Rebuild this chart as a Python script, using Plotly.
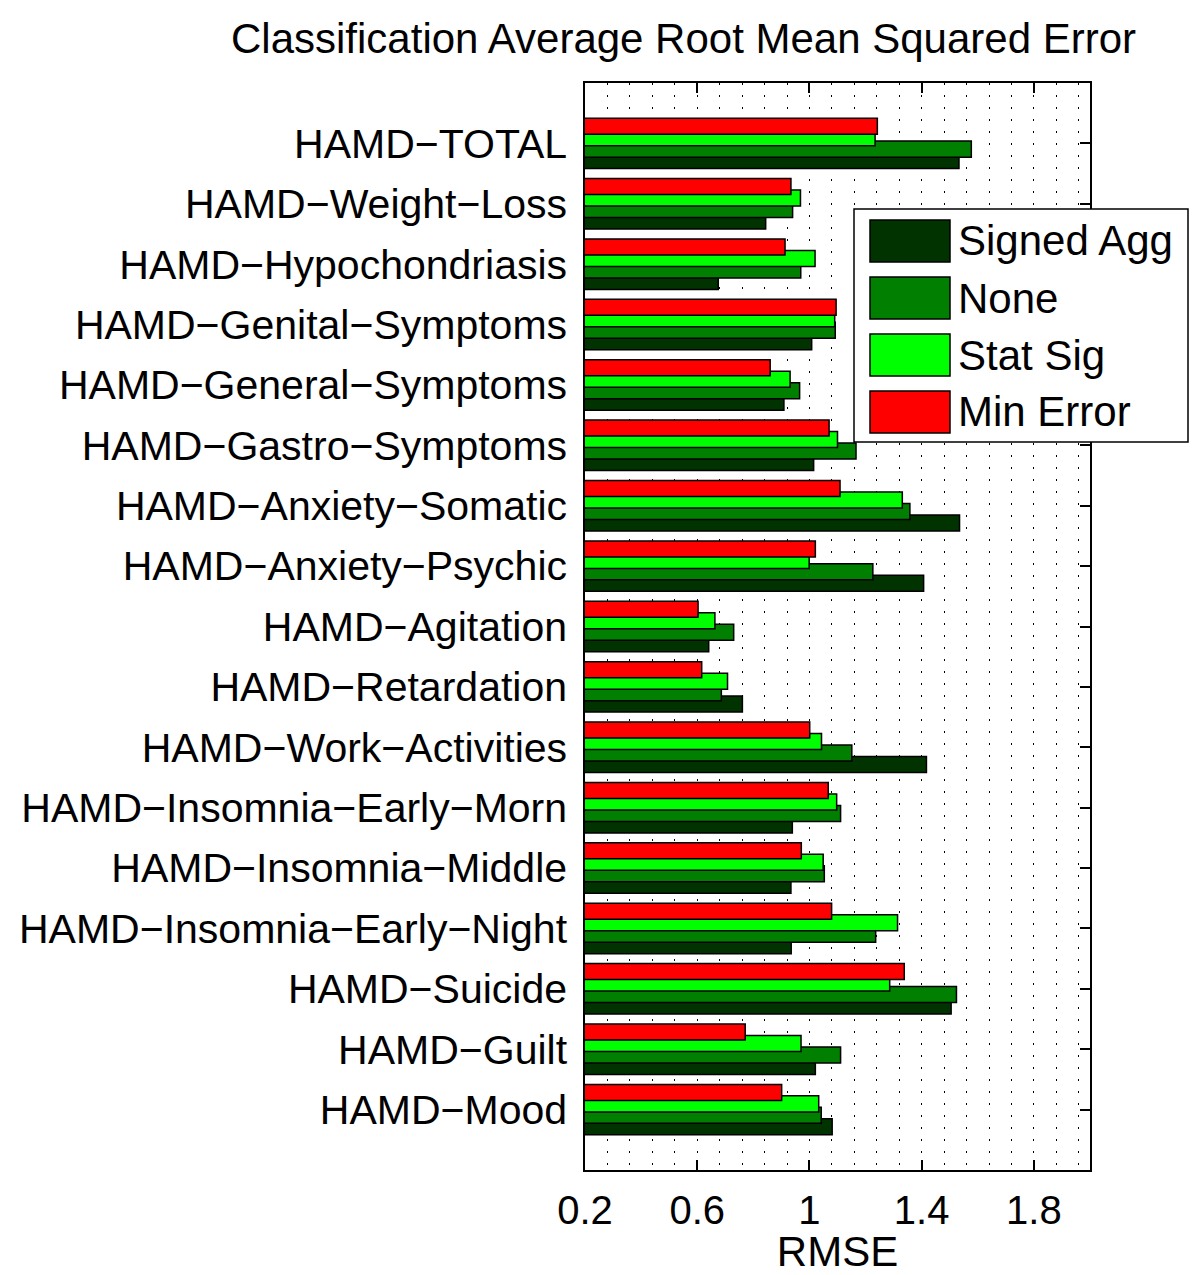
import plotly.graph_objects as go

# ---------------- data ----------------
categories = [
    "HAMD−Mood", "HAMD−Guilt", "HAMD−Suicide", "HAMD−Insomnia−Early−Night",
    "HAMD−Insomnia−Middle", "HAMD−Insomnia−Early−Morn", "HAMD−Work−Activities",
    "HAMD−Retardation", "HAMD−Agitation", "HAMD−Anxiety−Psychic",
    "HAMD−Anxiety−Somatic", "HAMD−Gastro−Symptoms", "HAMD−General−Symptoms",
    "HAMD−Genital−Symptoms", "HAMD−Hypochondriasis", "HAMD−Weight−Loss", "HAMD−TOTAL",
]
signed_agg = [1.081, 1.021, 1.505, 0.935, 0.934, 0.939, 1.417, 0.761, 0.641, 1.407,
              1.535, 1.015, 0.909, 1.008, 0.675, 0.844, 1.533]
none_vals = [1.042, 1.111, 1.524, 1.236, 1.053, 1.111, 1.151, 0.686, 0.730, 1.226,
             1.358, 1.166, 0.965, 1.092, 0.969, 0.940, 1.577]
stat_sig = [1.033, 0.970, 1.286, 1.314, 1.049, 1.097, 1.043, 0.708, 0.663, 0.999,
            1.331, 1.100, 0.931, 1.090, 1.020, 0.968, 1.234]
min_error = [0.901, 0.771, 1.338, 1.079, 0.971, 1.067, 1.001, 0.616, 0.603, 1.021,
             1.109, 1.070, 0.860, 1.095, 0.913, 0.934, 1.242]

series_names = ["Signed Agg", "None", "Stat Sig", "Min Error"]
series_values = [signed_agg, none_vals, stat_sig, min_error]
colors = ["#003300", "#007f00", "#00ff00", "#ff0000"]

x_tick_vals = [0.2, 0.6, 1.0, 1.4, 1.8]
x_tick_text = ["0.2", "0.6", "1", "1.4", "1.8"]

title_text = "Classification Average Root Mean Squared Error"
x_title = "RMSE"

# ---------------- layout geometry (page pixels; page has 8px body margin) ----------------
OFF = 8
W, H = 1200 - OFF, 1275 - OFF
L, R, T, B = 585, 1090, 83, 1170          # plot area in page pixels
FONT = "Liberation Sans, Arial, Helvetica, sans-serif"

def px2x(px):
    return (px - L) / (R - L)

def py2y(py):
    return (B - py) / (B - T)

bar_w = 0.265
step = 0.19

fig = go.Figure()
for i, (name, vals, col) in enumerate(zip(series_names, series_values, colors)):
    fig.add_trace(go.Bar(
        y=categories, x=vals, name=name, orientation="h",
        marker=dict(color=col, line=dict(color="black", width=1.5)),
        width=bar_w, offset=(i - 1.5) * step - bar_w / 2,
        showlegend=False,
    ))

# custom legend (MATLAB-style big swatches)
shapes = [dict(type="rect", xref="paper", yref="paper",
               x0=px2x(854), x1=px2x(1188), y0=py2y(442), y1=py2y(209),
               fillcolor="white", line=dict(color="black", width=1.5), layer="above")]
annotations = []
for k, (name, col) in enumerate(zip(series_names, colors)):
    cy = 241 + 57 * k
    shapes.append(dict(type="rect", xref="paper", yref="paper",
                       x0=px2x(870), x1=px2x(950), y0=py2y(cy + 21), y1=py2y(cy - 21),
                       fillcolor=col, line=dict(color="black", width=1.5), layer="above"))
    annotations.append(dict(xref="paper", yref="paper", x=px2x(956), y=py2y(cy),
                            xanchor="left", yanchor="middle", text=name, showarrow=False,
                            font=dict(family=FONT, size=42, color="black")))

annotations.append(dict(xref="paper", yref="paper", x=px2x(683), y=py2y(38),
                        xanchor="center", yanchor="middle", text=title_text, showarrow=False,
                        font=dict(family=FONT, size=42, color="black")))

fig.update_layout(
    width=W, height=H,
    margin=dict(l=L - OFF, r=1200 - R, t=T - OFF, b=1275 - B, pad=0, autoexpand=False),
    paper_bgcolor="white", plot_bgcolor="white",
    barmode="overlay",
    font=dict(family=FONT, size=40, color="black"),
    shapes=shapes, annotations=annotations,
    xaxis=dict(
        range=[0.2, 2.0], tickvals=x_tick_vals, ticktext=x_tick_text,
        ticks="inside", ticklen=10, tickwidth=1.5, tickcolor="black",
        showline=True, linecolor="black", linewidth=1.5, mirror="ticks",
        showgrid=True, gridcolor="black", gridwidth=1.2, griddash="2px,10px",
        minor=dict(tick0=0.2, dtick=0.08, showgrid=True, gridcolor="black",
                   gridwidth=1.2, griddash="2px,10px", ticks=""),
        tickfont=dict(family=FONT, size=40, color="black"),
        title=dict(text=x_title, font=dict(family=FONT, size=42, color="black"), standoff=6),
        zeroline=False, ticklabelstandoff=4, automargin=False,
    ),
    yaxis=dict(
        type="category", categoryorder="array", categoryarray=categories,
        range=[-1, len(categories)],
        ticks="inside", ticklen=10, tickwidth=1.5, tickcolor="black",
        showline=True, linecolor="black", linewidth=1.5, mirror="ticks",
        showgrid=False, layer="below traces",
        tickfont=dict(family=FONT, size=41, color="black"),
        ticklabelstandoff=8, automargin=False,
    ),
)

fig.write_html("out.html")
